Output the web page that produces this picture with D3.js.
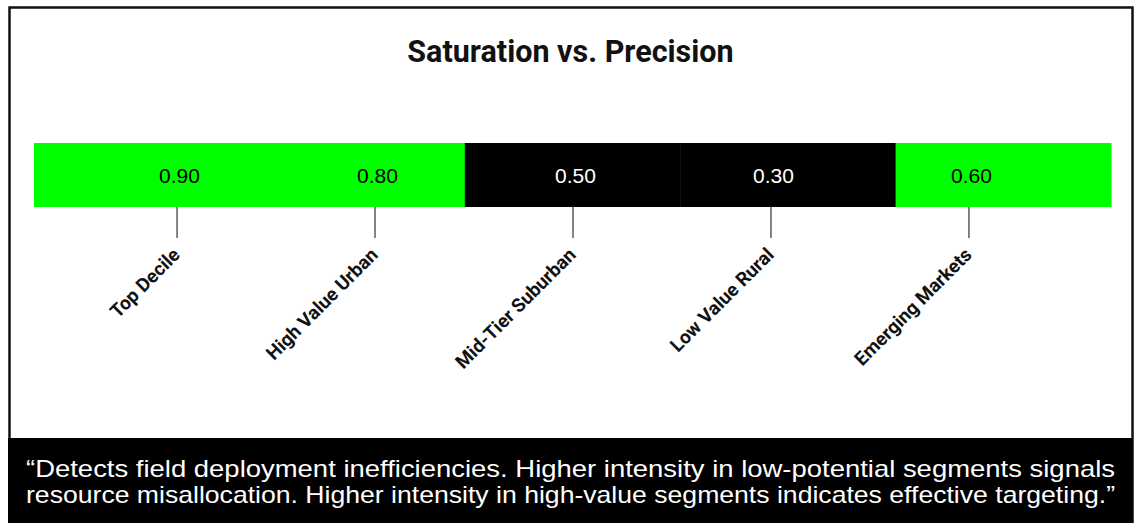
<!DOCTYPE html>
<html>
<head>
<meta charset="utf-8">
<script src="https://cdn.jsdelivr.net/npm/d3@7"></script>
<style>
  html, body { margin: 0; padding: 0; background: #fff; }
  svg { display: block; }
</style>
</head>
<body>
<div id="chart"></div>
<script>
// Segment names and their saturation/precision scores
const segments = ["Top Decile", "High Value Urban", "Mid-Tier Suburban", "Low Value Rural", "Emerging Markets"];
const scores = [0.90, 0.80, 0.50, 0.30, 0.60];
const titleText = "Saturation vs. Precision";
const captionLines = [
  "\u201CDetects field deployment inefficiencies. Higher intensity in low-potential segments signals",
  "resource misallocation. Higher intensity in high-value segments indicates effective targeting.\u201D"
];

const W = 1139, H = 523;
const stripTop = 143, stripH = 64;
const left = 34, right = 1111;

const data = segments.map((s, i) => ({ segment: s, score: scores[i] }));

const svg = d3.select("#chart").append("svg")
  .attr("width", W).attr("height", H);

// card frame
svg.append("rect")
  .attr("x", 9.5).attr("y", 7.5)
  .attr("width", 1123).attr("height", 540)
  .attr("fill", "#fff").attr("stroke", "#111").attr("stroke-width", 2.5);

// title
svg.append("text")
  .attr("x", 570.5).attr("y", 61.5)
  .attr("text-anchor", "middle")
  .attr("font-family", "Roboto, sans-serif")
  .attr("font-weight", 700)
  .attr("font-size", 30.5)
  .attr("fill", "#111")
  .text(titleText);

// cells: one band per segment
const xBand = d3.scaleBand().domain(segments).range([left, right]).paddingInner(0).paddingOuter(0);
// tick / label positions along the strip
const xPoint = d3.scalePoint().domain(segments).range([left, right]).padding(0.72);

// colour: high-intensity segments in green, low in black
const color = d3.scaleThreshold().domain([0.6]).range(["#000000", "#00ff00"]);

svg.append("g").selectAll("rect")
  .data(data).join("rect")
  .attr("x", d => xBand(d.segment))
  .attr("y", stripTop)
  .attr("width", xBand.bandwidth() + 0.5)
  .attr("height", stripH)
  .attr("fill", d => color(d.score));

svg.append("g").selectAll("text")
  .data(data).join("text")
  .attr("x", d => xPoint(d.segment) + 3)
  .attr("y", 183)
  .attr("text-anchor", "middle")
  .attr("font-family", "'Liberation Sans', Arial, sans-serif")
  .attr("font-size", 21)
  .attr("fill", d => d.score >= 0.6 ? "#000" : "#fff")
  .text(d => d3.format(".2f")(d.score));

// axis below the strip
const axis = d3.axisBottom(xPoint).tickSize(31).tickSizeOuter(0).tickPadding(0);
const gAxis = svg.append("g")
  .attr("transform", `translate(0,${stripTop + stripH})`)
  .call(axis);
gAxis.select(".domain").remove();
gAxis.selectAll(".tick line").attr("stroke", "#333").attr("stroke-width", 1.2);
gAxis.selectAll(".tick text")
  .attr("font-family", "Roboto, sans-serif")
  .attr("font-weight", 700)
  .attr("font-size", 19)
  .attr("fill", "#111")
  .attr("text-anchor", "end")
  .attr("dy", null)
  .attr("y", null)
  .attr("transform", "translate(4,49) rotate(-45)");

// caption band
svg.append("rect")
  .attr("x", 8).attr("y", 438)
  .attr("width", 1125).attr("height", H - 438)
  .attr("fill", "#000");

svg.append("g").selectAll("text")
  .data(captionLines).join("text")
  .attr("x", 570.5)
  .attr("y", (d, i) => 477 + i * 26)
  .attr("text-anchor", "middle")
  .attr("font-family", "'Liberation Sans', Arial, sans-serif")
  .attr("font-size", 24)
  .attr("textLength", 1089)
  .attr("lengthAdjust", "spacingAndGlyphs")
  .attr("fill", "#fff")
  .text(d => d);
</script>
</body>
</html>
